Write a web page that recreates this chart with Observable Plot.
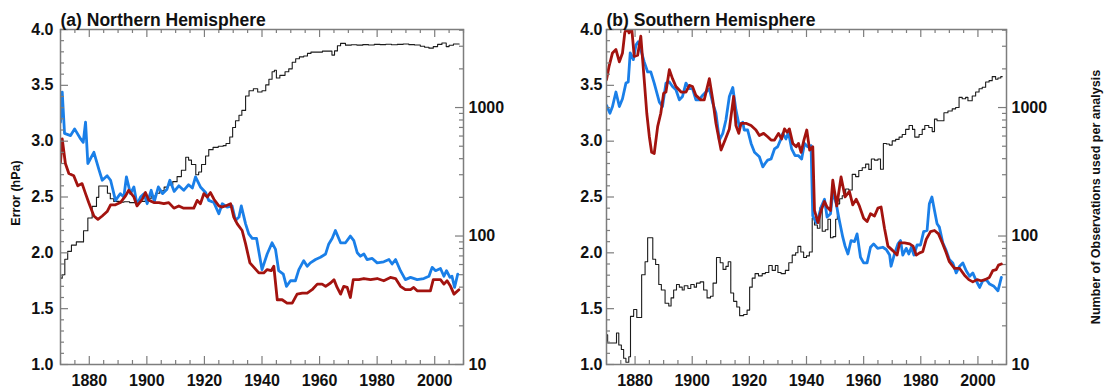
<!DOCTYPE html>
<html><head><meta charset="utf-8">
<script src="https://cdn.jsdelivr.net/npm/d3@7"></script>
<script src="https://cdn.jsdelivr.net/npm/@observablehq/plot@0.6"></script>
<style>
body{margin:0;background:#fff;}
#wrap{position:relative;width:1105px;height:389px;overflow:hidden;}
.panel{position:absolute;top:0;}
.panel svg{position:absolute;left:0;top:0;}
</style></head><body><div id="wrap"></div>
<script>
// ---- data: [year, error hPa] ----
const nhBlue = [[1870,3.17],[1870.6,3.44],[1871.4,3.07],[1873.5,3.05],[1874.9,3.11],[1877,3.02],[1877.9,2.99],[1878.7,3.17],[1879.5,2.80],[1881.6,2.90],[1883.3,2.75],[1884.5,2.65],[1886.2,2.69],[1887.4,2.65],[1889.1,2.47],[1890.8,2.53],[1892,2.50],[1892.9,2.68],[1894.3,2.53],[1895.5,2.59],[1896.6,2.43],[1897.8,2.50],[1899,2.53],[1900.1,2.44],[1901.5,2.56],[1902.6,2.46],[1904,2.59],[1905.5,2.53],[1907,2.57],[1908,2.65],[1909.5,2.55],[1911.1,2.60],[1912.8,2.56],[1914.5,2.61],[1915.8,2.58],[1916.9,2.68],[1918.6,2.59],[1920.4,2.54],[1921.5,2.47],[1923.3,2.45],[1925,2.35],[1926.2,2.44],[1927.9,2.41],[1929.6,2.42],[1930.8,2.29],[1932,2.32],[1932.8,2.42],[1934.3,2.26],[1935.4,2.17],[1936.6,2.13],[1938.1,2.13],[1940,1.85],[1941.8,1.99],[1943.5,2.09],[1944.7,2.03],[1945.8,1.84],[1947.4,1.81],[1948.5,1.70],[1949.9,1.75],[1951.6,1.75],[1952.8,1.85],[1954.5,1.93],[1955.7,1.88],[1956.8,1.91],[1958.6,1.94],[1960.3,1.96],[1962.1,1.99],[1963.2,2.08],[1964.4,2.13],[1965.5,2.20],[1967.3,2.09],[1969,2.09],[1970.7,2.15],[1971.9,2.11],[1973.1,2.00],[1974.2,1.97],[1975.4,1.99],[1976.5,1.94],[1978.3,1.95],[1980,1.91],[1982.3,1.92],[1984.1,1.94],[1985.2,1.90],[1986.4,1.94],[1988.1,1.84],[1989.8,1.76],[1991.6,1.78],[1993.9,1.76],[1996.2,1.77],[1998,1.79],[1999.1,1.87],[2000.3,1.84],[2002,1.86],[2003.2,1.79],[2004.1,1.84],[2005.3,1.78],[2006,1.79],[2006.9,1.69],[2008,1.81]];
const nhRed = [[1870,2.81],[1870.6,3.02],[1871.7,2.80],[1872.9,2.71],[1874.6,2.69],[1876,2.60],[1877.5,2.62],[1878.7,2.53],[1879.8,2.45],[1881.6,2.33],[1883,2.30],[1884.5,2.33],[1886.2,2.37],[1887.4,2.43],[1889.1,2.43],[1890.8,2.45],[1892.6,2.51],[1893.7,2.56],[1895.5,2.50],[1896.6,2.42],[1898.4,2.48],[1899.5,2.54],[1900.7,2.47],[1902.4,2.45],[1904.2,2.45],[1905.9,2.44],[1907.6,2.45],[1909.4,2.40],[1911.1,2.42],[1912.8,2.40],[1914.6,2.40],[1916.3,2.40],[1917.5,2.47],[1918.6,2.44],[1919.8,2.53],[1921,2.50],[1922.1,2.54],[1923.3,2.48],[1925,2.42],[1926.2,2.41],[1927.3,2.42],[1929.1,2.44],[1930.2,2.32],[1931.4,2.26],[1933.1,2.20],[1934.3,2.08],[1935.8,1.91],[1937.2,1.87],[1938.9,1.82],[1940.6,1.82],[1941.8,1.85],[1943.2,1.84],[1944.1,1.88],[1945.3,1.58],[1947,1.58],[1948.7,1.55],[1950.5,1.55],[1952.2,1.63],[1954,1.64],[1955.7,1.64],[1957.4,1.67],[1959.2,1.72],[1960.9,1.72],[1962.1,1.70],[1963.8,1.73],[1965,1.76],[1966.1,1.69],[1967.3,1.63],[1968.4,1.70],[1969.6,1.69],[1970.7,1.60],[1971.7,1.76],[1973.6,1.76],[1975.4,1.77],[1977.7,1.76],[1980,1.77],[1982.3,1.75],[1984.6,1.78],[1986.4,1.77],[1988.1,1.70],[1989.8,1.67],[1991.6,1.67],[1992.7,1.69],[1993.9,1.66],[1996.2,1.66],[1998.5,1.66],[1999.5,1.76],[2002,1.76],[2003.2,1.72],[2004.3,1.75],[2005.5,1.70],[2006.7,1.63],[2008.4,1.67]];
const shBlue = [[1870,3.32],[1871.2,3.25],[1872.1,3.31],[1873.3,3.44],[1874.5,3.31],[1875.6,3.38],[1876.8,3.52],[1877.6,3.53],[1878.3,3.79],[1879.4,3.73],[1880.3,3.86],[1881.1,3.89],[1882,3.82],[1883.2,3.71],[1884.4,3.62],[1885.5,3.62],[1886.7,3.52],[1888.5,3.35],[1889.6,3.31],[1890.8,3.52],[1892,3.53],[1893.1,3.49],[1894.3,3.46],[1895.5,3.37],[1896.6,3.40],[1897.8,3.52],[1899,3.47],[1900.1,3.47],[1901.3,3.37],[1902.5,3.37],[1903.6,3.41],[1904.8,3.44],[1906,3.47],[1907.2,3.34],[1908.3,3.25],[1909.5,3.01],[1910.7,3.07],[1911.8,3.19],[1913,3.40],[1914.2,3.48],[1915.3,3.28],[1916.5,3.13],[1917.7,3.17],[1918.2,3.10],[1919.4,3.10],[1920.6,2.98],[1921.8,2.90],[1923.5,2.86],[1924.7,2.77],[1925.5,2.80],[1926.4,2.83],[1927.6,2.84],[1928.8,2.93],[1929.9,2.95],[1930.9,3.01],[1931.7,3.07],[1932.8,3.02],[1933.7,3.08],[1934.8,2.93],[1936,2.87],[1937.2,2.87],[1938.3,2.84],[1939.3,2.98],[1940.4,2.95],[1941.6,2.96],[1942.2,2.33],[1943.4,2.27],[1944.2,2.32],[1945.1,2.41],[1946.3,2.48],[1947.2,2.32],[1948.4,2.35],[1949.2,2.55],[1950.4,2.44],[1951.5,2.29],[1952.7,2.14],[1953.5,2.06],[1954.5,1.99],[1955.6,2.11],[1956.8,2.10],[1957.7,2.17],[1958.9,1.96],[1960,1.91],[1961.2,1.91],[1962.4,2.05],[1963.5,2.08],[1964.9,2.04],[1966.7,2.05],[1967.9,2.03],[1969.1,1.98],[1969.6,1.88],[1970.8,1.99],[1972,2.08],[1972.9,2.11],[1973.7,1.98],[1974.9,2.04],[1975.8,1.99],[1976.7,2.05],[1977.6,1.98],[1978.7,2.07],[1979.9,2.07],[1981,2.19],[1982.2,2.20],[1983,2.44],[1983.9,2.50],[1984.8,2.38],[1985.7,2.26],[1986.5,2.23],[1987.7,2.09],[1988.9,2.02],[1990,1.94],[1991.2,1.91],[1992.4,1.82],[1993.6,1.88],[1994.7,1.91],[1995.9,1.84],[1997.1,1.79],[1998.2,1.82],[1999.4,1.75],[2000.6,1.69],[2001.7,1.75],[2002.9,1.76],[2004.1,1.72],[2005.6,1.70],[2007,1.66],[2008.2,1.78]];
const shRed = [[1870,3.55],[1870.9,3.67],[1872.1,3.79],[1873.3,3.82],[1874.5,3.71],[1875.6,3.79],[1876.4,3.97],[1877.1,4.02],[1877.9,3.97],[1878.8,4.02],[1879.7,3.76],[1880.9,3.77],[1882,3.94],[1883.2,3.55],[1884.1,3.25],[1885,3.04],[1885.8,2.90],[1886.7,2.89],[1887.9,3.13],[1889,3.25],[1890,3.43],[1890.8,3.44],[1892,3.64],[1893.1,3.56],[1894.3,3.49],[1896.1,3.44],[1897.8,3.44],[1899,3.50],[1900.1,3.49],[1901.3,3.41],[1903,3.37],[1904.2,3.37],[1906,3.56],[1907.2,3.37],[1908.3,3.16],[1910.1,2.92],[1911.5,3.01],[1913,3.11],[1914.5,3.40],[1915.3,3.14],[1916.3,3.07],[1917.1,3.16],[1918.8,3.16],[1920.6,3.14],[1922.3,3.10],[1923.5,3.05],[1925,3.07],[1926.4,3.04],[1927.6,3.01],[1928.8,3.01],[1930.2,3.07],[1931.3,3.02],[1932.3,3.11],[1933.2,3.08],[1934,3.11],[1935.2,2.98],[1936.4,2.95],[1937.2,2.98],[1938.1,2.90],[1939.1,3.01],[1940.1,3.10],[1941.1,2.92],[1942.2,2.95],[1942.8,2.38],[1944,2.27],[1945.1,2.38],[1946.3,2.46],[1947.2,2.41],[1948.4,2.38],[1949.2,2.65],[1950.6,2.42],[1952.1,2.68],[1953.5,2.50],[1955,2.55],[1956.2,2.43],[1957.4,2.48],[1958.5,2.42],[1960,2.31],[1961.2,2.28],[1962.4,2.35],[1963.8,2.33],[1965,2.40],[1966.1,2.41],[1967.3,2.22],[1968.5,2.06],[1970.2,2.02],[1971.7,1.98],[1972.6,2.09],[1974.3,2.09],[1976.1,2.08],[1977.3,2.06],[1978.4,1.98],[1979.6,2.00],[1980.7,2.01],[1981.9,2.12],[1983.4,2.19],[1984.8,2.20],[1986.2,2.17],[1987.7,2.08],[1988.9,2.00],[1990,1.92],[1991.8,1.86],[1993.6,1.86],[1995.3,1.80],[1996.8,1.76],[1998.2,1.74],[1999.7,1.76],[2001.1,1.75],[2002.5,1.76],[2004,1.78],[2005.2,1.84],[2006.4,1.85],[2007.2,1.89],[2008.2,1.90]];
// ---- data: [year, number of observations per analysis] ----
const nhObs = [[1870,47],[1870.6,50],[1871.5,66],[1872.5,76],[1873.8,85],[1875.5,90],[1878,110],[1879.5,138],[1881,170],[1882.5,200],[1883.3,245],[1886.3,215],[1887.3,195],[1888.5,186],[1890.5,183],[1892,185],[1894,182],[1896,184],[1898,186],[1900,195],[1901.5,205],[1903,215],[1904.5,225],[1906,240],[1907.5,250],[1909,265],[1910.5,290],[1912,325],[1913.5,410],[1914.5,390],[1915.5,360],[1917,300],[1918,315],[1919,360],[1920.4,420],[1921.5,470],[1923,490],[1924.8,500],[1926.5,505],[1927.5,525],[1928.8,590],[1929.8,700],[1930.8,790],[1932,870],[1933,950],[1934.3,1230],[1935.5,1350],[1937,1400],[1938.5,1320],[1940,1350],[1941.3,1500],[1942.4,1660],[1943.5,1900],[1944.3,1950],[1945,1700],[1946.2,1780],[1948,1900],[1949.3,2000],[1950.5,2250],[1951.7,2400],[1953,2480],[1954.5,2520],[1955.8,2640],[1957,2700],[1961,2750],[1964.3,2560],[1965.2,2760],[1966.2,3030],[1967.3,3160],[1969,3060],[1971,3080],[1973,3060],[1975,3090],[1977,3070],[1979,3100],[1981,3090],[1983,3110],[1985,3080],[1987,3100],[1989,3120],[1991,3090],[1993,3070],[1995,3000],[1996.5,2950],[1998,2900],[1999.5,2980],[2001,3100],[2002.5,3180],[2004,2980],[2005,3050],[2006.5,3120],[2008.5,3120]];
const shObs = [[1870,17],[1870.4,14.7],[1873.5,17.6],[1874.3,14.2],[1875.2,13.1],[1876,11.2],[1876.8,10.4],[1877.8,11.5],[1878.4,23.7],[1879.5,26.8],[1880.6,23.2],[1882.3,50],[1883.5,63],[1884.4,97],[1886.2,66],[1887.2,60],[1888.3,42],[1889.2,38],[1890.5,30],[1891.8,28.5],[1892.6,33],[1893.5,38],[1894.5,42],[1895.5,40],[1896.5,38],[1897.2,41],[1898.5,39],[1899.5,42],[1900.7,40],[1901.5,43],[1902.8,44],[1904,38],[1905.2,33],[1906.4,34],[1907.3,43],[1908.5,68],[1909.8,62],[1910.8,55],[1911.8,58],[1912.6,63],[1913.5,36],[1914.5,31],[1915.6,28],[1916.6,24],[1918,24.5],[1919.2,26.5],[1920.1,40],[1921,47],[1922,51],[1923.2,49],[1924.5,51],[1925.6,52],[1926.8,59],[1928,54],[1929.1,59],[1930,52],[1931.1,51],[1932.6,54],[1933.8,62],[1935,71],[1936.2,74],[1937,83],[1938,75],[1939,68],[1940,70],[1941,75],[1942,138],[1942.8,122],[1943.8,115],[1944.7,166],[1945.5,109],[1946.6,112],[1947.5,135],[1948.4,97],[1949.3,99],[1950.2,135],[1950.8,178],[1951.6,195],[1952.5,206],[1953.7,232],[1954.8,228],[1956,302],[1957.2,290],[1958.3,324],[1959.5,340],[1960.7,363],[1961.8,330],[1962.7,398],[1963.8,390],[1965,398],[1965.9,331],[1966.9,525],[1968,520],[1969,510],[1970,550],[1971.2,565],[1972.4,589],[1973.5,617],[1974.7,676],[1975.9,724],[1977.1,676],[1977.9,589],[1979.4,617],[1980.5,676],[1981.4,724],[1982.8,700],[1984,650],[1984.8,813],[1985.7,790],[1987,790],[1988.1,912],[1989.5,940],[1991,977],[1992.2,1000],[1993.4,1200],[1994.5,1170],[1995.7,1200],[1996.5,1130],[1998,1230],[1999.2,1320],[2000.4,1400],[2001.5,1440],[2002.7,1580],[2003.9,1620],[2005,1740],[2006.2,1660],[2007,1700],[2008,1740],[2008.5,1740]];
// ---- tick labels ----
const xMajor = [1880,1900,1920,1940,1960,1980,2000];
const xMinor = [1870,1875,1885,1890,1895,1905,1910,1915,1925,1930,1935,1945,1950,1955,1965,1970,1975,1985,1990,1995,2005,2010];
const yMajor = [1.0,1.5,2.0,2.5,3.0,3.5,4.0];
const yMinor = [1.1,1.2,1.3,1.4,1.6,1.7,1.8,1.9,2.1,2.2,2.3,2.4,2.6,2.7,2.8,2.9,3.1,3.2,3.3,3.4,3.6,3.7,3.8,3.9];
const logMajor = [10,100,1000];
const logMinor = [20,30,40,50,60,70,80,90,200,300,400,500,600,700,800,900,2000,3000,4000];
const titles = ["(a) Northern Hemisphere","(b) Southern Hemisphere"];
const yTitle = "Error (hPa)";
const y2Title = "Number of Observations used per analysis";

const BLUE = "#1a7fe8", RED = "#a3130f", AX = "#7d7d7d";
const FONT = "'Liberation Sans', Arial, Helvetica, sans-serif";

function panel(cfg) {
  const {left, width, mL, mR, title, blue, red, obs, leftTitle, rightTitle, yPad} = cfg;
  const H = 389, mT = 29, mB = 25;
  const fw = width - mL - mR, fh = H - mT - mB;
  const div = document.createElement("div");
  div.className = "panel";
  div.style.left = left + "px"; div.style.width = width + "px"; div.style.height = H + "px";
  const base = {fontFamily: FONT, fontWeight: "bold", fontSize: "16px", color: "#111", overflow: "visible", maxWidth: "none"};
  const X = d => d[0], Y = d => d[1];
  const obsPlot = Plot.plot({
    width, height: H, marginTop: mT, marginBottom: mB, marginLeft: mL, marginRight: mR,
    style: {...base, background: "white"},
    x: {domain: [1870, 2010], axis: null},
    y: {type: "log", domain: [10, 4050]},
    marks: [
      Plot.line(obs, {x: X, y: Y, curve: "step-after", stroke: "#1c1c1c", strokeWidth: 1.1, clip: true}),
      Plot.tickY(logMinor, {y: d => d, insetLeft: fw - 4, stroke: AX, strokeWidth: 1.2}),
      Plot.tickY(logMajor, {y: d => d, insetLeft: fw - 8, stroke: AX, strokeWidth: 1.2}),
      Plot.axisY(logMajor, {anchor: "right", tickSize: 0, tickPadding: 5, tickFormat: d => String(d), fontSize: 16, label: null}),
      ...(rightTitle ? [Plot.text([rightTitle], {text: d => d, frameAnchor: "right", textAnchor: "middle", dx: 89, rotate: -90, fontSize: 12.5, fontWeight: "bold"})] : [])
    ]
  });
  const errPlot = Plot.plot({
    width, height: H, marginTop: mT, marginBottom: mB, marginLeft: mL, marginRight: mR,
    style: {...base, background: "transparent"},
    x: {domain: [1870, 2010]},
    y: {domain: [1, 4]},
    marks: [
      Plot.line(blue, {x: X, y: Y, stroke: BLUE, strokeWidth: 2.8, clip: true}),
      Plot.line(red, {x: X, y: Y, stroke: RED, strokeWidth: 2.8, clip: true}),
      Plot.frame({stroke: AX, strokeWidth: 1.5}),
      Plot.tickX(xMinor, {x: d => d, insetTop: fh - 4, stroke: AX, strokeWidth: 1.2}),
      Plot.tickX(xMajor, {x: d => d, insetTop: fh - 8, stroke: AX, strokeWidth: 1.2}),
      Plot.tickX(xMinor, {x: d => d, insetBottom: fh - 4, stroke: AX, strokeWidth: 1.2}),
      Plot.tickX(xMajor, {x: d => d, insetBottom: fh - 8, stroke: AX, strokeWidth: 1.2}),
      Plot.tickY(yMinor, {y: d => d, insetRight: fw - 4, stroke: AX, strokeWidth: 1.2}),
      Plot.tickY(yMajor, {y: d => d, insetRight: fw - 8, stroke: AX, strokeWidth: 1.2}),
      Plot.axisX(xMajor, {tickSize: 0, tickPadding: 10, tickFormat: d => String(d), fontSize: 16, label: null}),
      Plot.axisY(yMajor, {tickSize: 0, tickPadding: yPad, tickFormat: d3.format(".1f"), fontSize: 16, label: null}),
      Plot.text([title], {text: d => d, frameAnchor: "top-left", dy: -16, textAnchor: "start", fontSize: 17.5, fontWeight: "bold"}),
      ...(leftTitle ? [Plot.text([leftTitle], {text: d => d, frameAnchor: "left", textAnchor: "middle", dx: -45, dy: -4, rotate: -90, fontSize: 12.5, fontWeight: "bold"})] : [])
    ]
  });
  div.appendChild(obsPlot);
  div.appendChild(errPlot);
  document.getElementById("wrap").appendChild(div);
}

panel({left: 0, width: 545, mL: 60, mR: 82, title: titles[0], blue: nhBlue, red: nhRed, obs: nhObs, leftTitle: yTitle, rightTitle: null, yPad: 7});
panel({left: 545, width: 560, mL: 61, mR: 99, title: titles[1], blue: shBlue, red: shRed, obs: shObs, leftTitle: null, rightTitle: y2Title, yPad: 4});
</script>
</body></html>
